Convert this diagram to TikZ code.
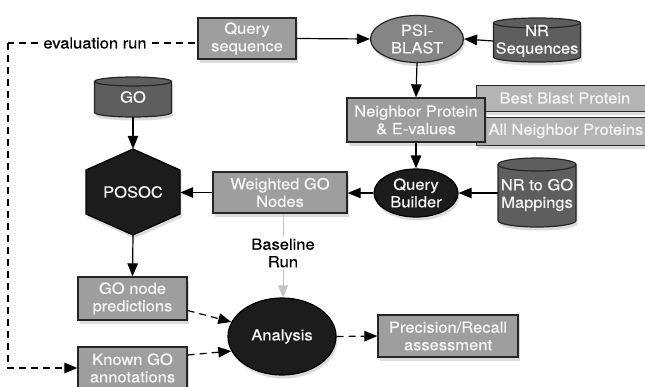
\documentclass[tikz,border=0pt]{standalone}
\usepackage{fontspec}
\setmainfont{TeX Gyre Heros}[FakeStretch=1.08,FakeBold=0.5]
\usetikzlibrary{shadows,calc,arrows.meta,shapes.geometric}
\definecolor{boxg}{HTML}{9E9E9E}
\definecolor{lightg}{HTML}{B4B4B4}
\definecolor{ellg}{HTML}{858585}
\definecolor{cylg}{HTML}{5E5E5E}
\definecolor{blkc}{HTML}{1C1C1C}
\definecolor{edgec}{HTML}{262626}
\definecolor{basec}{HTML}{C4C4C4}
\definecolor{txtc}{HTML}{F4F4F4}
\newcommand\cylshape[5]{%
  \path[cylbody] ({#1-#3/2},{#2-#4/2+#5}) -- ({#1-#3/2},{#2+#4/2-#5})
    arc[start angle=180,end angle=360,x radius={#3/2*1pt},y radius={#5*1pt}]
    -- ({#1+#3/2},{#2-#4/2+#5})
    arc[start angle=0,end angle=180,x radius={#3/2*1pt},y radius={#5*1pt}] -- cycle;
  \draw[cyltop] ({#1+#3/2},{#2-#4/2+#5})
    arc[start angle=0,end angle=-180,x radius={#3/2*1pt},y radius={#5*1pt}];
}
\begin{document}
\begin{tikzpicture}[x=1pt,y=-1pt,
  font=\fontsize{15.3}{17.5}\selectfont,
  shad/.style={drop shadow={opacity=0.28,shadow xshift=1.5pt,shadow yshift=-3.5pt}},
  box/.style={rectangle,draw=edgec,line width=1.3pt,fill=boxg,text=txtc,align=center,inner sep=1pt,shad},
  lbox/.style={rectangle,draw=edgec,line width=1.1pt,fill=lightg,text=txtc,shad},
  gell/.style={ellipse,draw=edgec,line width=1.2pt,fill=ellg,text=txtc,align=center,inner sep=0pt,shad},
  bell/.style={ellipse,draw=black,line width=1.2pt,fill=blkc,text=txtc,align=center,inner sep=0pt,shad},
  cylbody/.style={draw=edgec,line width=1.2pt,fill=cylg,shad},
  cyltop/.style={draw=edgec,line width=1.2pt},
  cyltext/.style={rectangle,draw=none,text=txtc,align=center,inner sep=0pt},
  plain/.style={text=black,align=center,inner sep=2pt},
  arr/.style={-{Triangle[length=13pt,width=10.5pt]},line width=1.2pt,draw=black},
  dsh/.style={arr,dash pattern=on 7pt off 5pt},
]
\useasboundingbox (0,0) rectangle (645,386);
\clip (0,0) rectangle (645,386);

% background stacked boxes
\node[lbox,minimum width=180,minimum height=26,anchor=north west] (bbp) at (476,85) {};
\node[text=txtc,anchor=west] (bbpt) at (496,98) {Best Blast Protein};
\node[lbox,minimum width=180,minimum height=28,anchor=north west] (anp) at (476,117) {};
\node[text=txtc,anchor=west] (anpt) at (485,131) {All Neighbor Proteins};

% top row
\node[box,minimum width=98,minimum height=41] (qs) at (247,38.5) {Query\\sequence};
\node[gell,minimum width=93,minimum height=47] (psi) at (417,39) {PSI-\\BLAST};
\cylshape{537}{40}{87}{44}{5}
\node[cyltext,minimum width=87,minimum height=44] (nrs) at (537,41) {NR\\Sequences};

\node[box,minimum width=138,minimum height=44] (nbr) at (416,120) {Neighbor Protein\\\& E-values};

% GO db and POSOC
\cylshape{133}{97}{77}{40}{4.5}
\node[cyltext,minimum width=77,minimum height=40] (go) at (133,97) {GO};

\path[fill=blkc,draw=black,line width=1.2pt,shad] (133,149) -- (180,170) -- (180,214) -- (133,235) -- (86,214) -- (86,170) -- cycle;
\node[cyltext,minimum width=94,minimum height=86] (posoc) at (133,192) {POSOC};

% middle row
\node[box,minimum width=134,minimum height=41] (wgo) at (280,192.5) {Weighted GO\\Nodes};
\node[bell,minimum width=84,minimum height=48] (qb) at (416,193) {Query\\Builder};
\cylshape{537}{192.5}{78}{69}{6.5}
\node[cyltext,minimum width=78,minimum height=69] (nrgo) at (537,195) {NR to GO\\Mappings};

% bottom
\node[box,minimum width=109,minimum height=43] (gnp) at (132.5,298.5) {GO node\\predictions};
\node[box,minimum width=109,minimum height=42] (kga) at (132.5,368) {Known GO\\annotations};
\node[bell,minimum width=108,minimum height=77] (an) at (282,336.5) {Analysis};
\node[box,minimum width=140,minimum height=42] (pr) at (448,336) {Precision/Recall\\assessment};

\node[plain] (base) at (283,253) {Baseline\\Run};
\node[plain,inner sep=5pt] (ev) at (95,43) {evaluation run};
\coordinate (evc) at (8,43);

% connectors
\draw[arr] (qs.east) -- (psi.west);
\draw[arr] (nrs.west) -- (psi.east);
\draw[arr] (psi.south) -- (nbr.north);
\draw[arr] (nbr.south) -- (qb.north);
\draw[arr] (nrgo.west |- qb.east) -- (qb.east);
\draw[arr] (qb.west) -- (qb.west -| wgo.east);
\draw[arr] (wgo.west) -- (wgo.west -| posoc.east);
\draw[arr] (go.south) -- (posoc.north);
\draw[arr] (posoc.south) -- (gnp.north);

\draw[draw=basec,line width=1pt] (wgo.south -| base.north) -- (base.north);
\draw[draw=basec,line width=1pt,-{Triangle[length=12pt,width=10pt,fill=basec]}] (base.south) -- (base.south |- an.north);

\draw[dsh,-] (ev.east) -- (qs.west |- ev.east);
\draw[dsh,-] (ev.west) -- (evc);
\draw[dsh] (evc) |- (kga.west);
\draw[dsh] ($(gnp.east)+(0,12)$) -- (an.164);
\draw[dsh] ($(kga.east)+(0,-13)$) -- (an.196);
\draw[dsh] (an.east) -- (pr.west);
\end{tikzpicture}
\end{document}
